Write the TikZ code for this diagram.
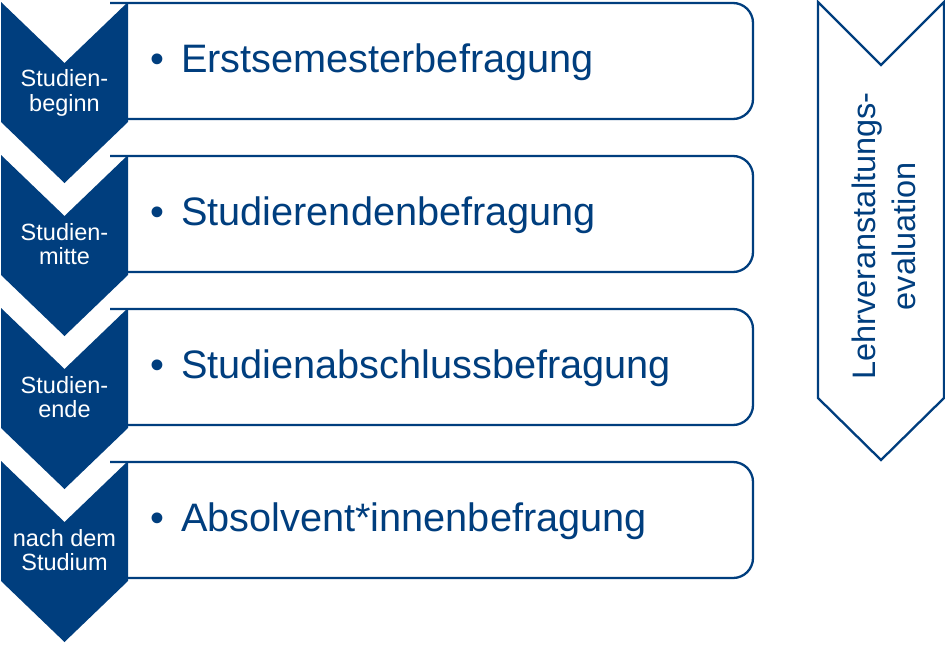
\documentclass[tikz,border=0pt]{standalone}
\usepackage{fontspec}
\setmainfont{Liberation Sans}
\definecolor{unib}{RGB}{0,62,126}
\begin{document}
\begin{tikzpicture}[x=1pt,y=-1pt,
  chev/.style={fill=unib,draw=none},
  box/.style={draw=unib,line width=2.3pt,fill=white,rounded corners=20pt},
  lab/.style={text=white,align=center,font=\fontsize{23.5}{24.5}\selectfont,inner sep=0pt},
  item/.style={text=unib,anchor=base west,inner sep=0pt,font=\fontsize{39.7}{41}\selectfont}]
\useasboundingbox[fill=white] (0,0) rectangle (945,645);
% rectangles
\foreach \T in {2,155,308,461}{
  \draw[box] (110,\T+1) -- (753,\T+1) -- (753,\T+117) -- (110,\T+117);
}
% chevrons
\foreach \T in {2,155,308,461}{
  \fill[chev] (1,\T) -- (64.5,\T+61) -- (128,\T) -- (128,\T+120) -- (64.5,\T+181) -- (1,\T+120) -- cycle;
}
\node[lab] (l1) at (64.5,93) {Studien-\\beginn};
\node[lab] (l2) at (64.5,244) {Studien-\\mitte};
\node[lab] (l3) at (64.5,397) {Studien-\\ende};
\node[lab] (l4) at (64.5,550) {nach dem\\Studium};
\node[item] (t1) at (150,72) {•\hspace{17pt}Erstsemesterbefragung};
\node[item] (t2) at (150,225) {•\hspace{17pt}Studierendenbefragung};
\node[item] (t3) at (150,378) {•\hspace{17pt}Studienabschlussbefragung};
\node[item] (t4) at (150,531) {•\hspace{17pt}Absolvent*innenbefragung};
% right arrow
\draw[draw=unib,line width=2.3pt,line join=miter] (818,2) -- (881,65) -- (944,2) -- (944,398) -- (881,460) -- (818,398) -- cycle;
\node[text=unib,rotate=90,align=center,inner sep=0pt,font=\fontsize{32.5}{40}\selectfont] (lv) at (883.5,236) {Lehrveranstaltungs-\\evaluation};
\end{tikzpicture}
\end{document}
